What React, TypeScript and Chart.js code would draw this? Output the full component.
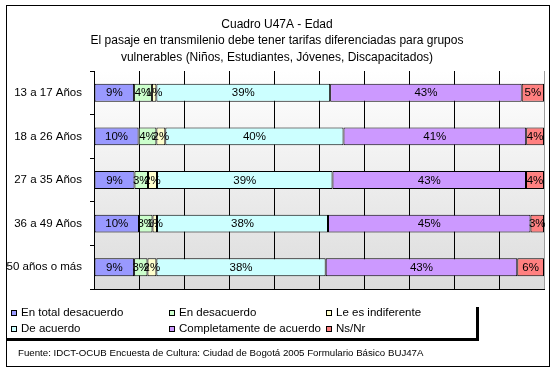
import React, { useEffect, useRef } from "react";
import { Chart, registerables } from "chart.js";

Chart.register(...registerables);

const categories = ["13 a 17 Años", "18 a 26 Años", "27 a 35 Años", "36 a 49 Años", "50 años o más"];
const seriesNames = [
  "En total desacuerdo",
  "En desacuerdo",
  "Le es indiferente",
  "De acuerdo",
  "Completamente de acuerdo",
  "Ns/Nr",
];
const enTotalDesacuerdo = [9, 10, 9, 10, 9];
const enDesacuerdo = [4, 4, 3, 3, 3];
const leEsIndiferente = [1, 2, 2, 1, 2];
const deAcuerdo = [39, 40, 39, 38, 38];
const completamenteDeAcuerdo = [43, 41, 43, 45, 43];
const nsNr = [5, 4, 4, 3, 6];
const seriesColors = ["#9999FF", "#CCFFCC", "#FFFFCC", "#CCFFFF", "#CC99FF", "#FF8080"];
const titleLines = [
  "Cuadro U47A - Edad",
  "El pasaje en transmilenio debe tener tarifas diferenciadas para grupos",
  "vulnerables (Niños, Estudiantes, Jóvenes, Discapacitados)",
];
const sourceNote = "Fuente: IDCT-OCUB Encuesta de Cultura: Ciudad de Bogotá 2005 Formulario Básico BUJ47A";

const FONT = "'Liberation Sans', Arial, sans-serif";

export default function App() {
  const ref = useRef<HTMLCanvasElement | null>(null);

  useEffect(() => {
    const canvas = ref.current;
    if (!canvas) return;
    const series = [enTotalDesacuerdo, enDesacuerdo, leEsIndiferente, deAcuerdo, completamenteDeAcuerdo, nsNr];
    const rowSums = categories.map((_, i) => series.reduce((s, arr) => s + arr[i], 0));

    const bgPlugin = {
      id: "bg",
      beforeDraw(chart: any) {
        const { ctx, chartArea: a } = chart;
        ctx.save();
        ctx.fillStyle = "#ffffff";
        ctx.fillRect(0, 0, chart.width, chart.height);
        const g = ctx.createLinearGradient(0, a.top, 0, a.bottom);
        g.addColorStop(0, "#ffffff");
        g.addColorStop(1, "#dcdcdc");
        ctx.fillStyle = g;
        ctx.fillRect(a.left, a.top, a.right - a.left, a.bottom - a.top);
        ctx.restore();
      },
    };

    const labelPlugin = {
      id: "vals",
      afterDatasetsDraw(chart: any) {
        const { ctx } = chart;
        ctx.save();
        ctx.font = `11.5px ${FONT}`;
        ctx.fillStyle = "#000";
        ctx.textAlign = "center";
        ctx.textBaseline = "middle";
        chart.data.datasets.forEach((ds: any, di: number) => {
          const meta = chart.getDatasetMeta(di);
          meta.data.forEach((el: any, i: number) => {
            const cx = (el.x + el.base) / 2;
            ctx.fillText(`${ds.raw[i]}%`, cx, el.y + 0.5);
          });
        });
        ctx.restore();
      },
    };

    const overlayPlugin = {
      id: "overlay",
      afterDraw(chart: any) {
        const { ctx } = chart;
        ctx.save();
        // title
        ctx.fillStyle = "#000";
        ctx.font = `12px ${FONT}`;
        ctx.textAlign = "center";
        ctx.textBaseline = "middle";
        titleLines.forEach((t, i) => ctx.fillText(t, 277, 24.5 + i * 16.5));
        // legend
        const cols = [11, 169, 326];
        const rows = [313, 329];
        ctx.font = `11.5px ${FONT}`;
        ctx.textAlign = "left";
        chart.data.datasets.forEach((ds: any, i: number) => {
          const cx = cols[i % 3];
          const cy = rows[Math.floor(i / 3)];
          ctx.fillStyle = ds.backgroundColor;
          ctx.fillRect(cx, cy - 3, 6, 6);
          ctx.strokeStyle = "#000";
          ctx.lineWidth = 1;
          ctx.strokeRect(cx + 0.5, cy - 2.5, 5, 5);
          ctx.fillStyle = "#000";
          ctx.fillText(ds.label, cx + 10, cy);
        });
        // legend shadow
        ctx.fillStyle = "#000";
        ctx.fillRect(6, 338, 473, 3);
        ctx.fillRect(476, 307, 3, 34);
        // footer
        ctx.font = `9.7px ${FONT}`;
        ctx.fillText(sourceNote, 18, 353);
        // outer border
        ctx.strokeStyle = "#000";
        ctx.lineWidth = 1;
        ctx.strokeRect(6.5, 5.5, 543, 361);
        ctx.restore();
      },
    };

    const chart = new Chart(canvas, {
      type: "bar",
      data: {
        labels: categories,
        datasets: series.map((arr, k) => ({
          label: seriesNames[k],
          data: arr.map((v, i) => (v / rowSums[i]) * 100),
          raw: arr,
          backgroundColor: seriesColors[k],
          borderColor: "#000",
          borderWidth: 1,
          borderSkipped: false,
          barPercentage: 0.41,
          categoryPercentage: 1,
        })) as any,
      },
      options: {
        indexAxis: "y",
        responsive: false,
        maintainAspectRatio: false,
        animation: false,
        layout: { padding: { top: 71, bottom: 82, left: 0, right: 12 } },
        plugins: {
          legend: { display: false },
          title: { display: false },
          tooltip: { enabled: false },
        },
        scales: {
          x: {
            stacked: true,
            min: 0,
            max: 100,
            ticks: { display: false, stepSize: 10 },
            grid: {
              drawTicks: false,
              color: (c: any) => (c.tick && c.tick.value === 100 ? "#a0a0a0" : "#000"),
              lineWidth: 1,
            },
            border: { color: "#000" },
            afterFit: (s: any) => {
              s.height = 0;
            },
          },
          y: {
            stacked: true,
            grid: { drawOnChartArea: false, drawTicks: true, tickLength: 4, color: "#000" },
            border: { color: "#000" },
            ticks: { color: "#000", font: { family: FONT, size: 11.5 }, padding: 8 },
            afterFit: (s: any) => {
              s.width = 94;
            },
          },
        },
      } as any,
      plugins: [bgPlugin, labelPlugin, overlayPlugin],
    });
    return () => chart.destroy();
  }, []);

  return (
    <div style={{ position: "fixed", left: 0, top: 0, width: 556, height: 371, background: "#fff" }}>
      <canvas ref={ref} width={556} height={371} />
    </div>
  );
}
